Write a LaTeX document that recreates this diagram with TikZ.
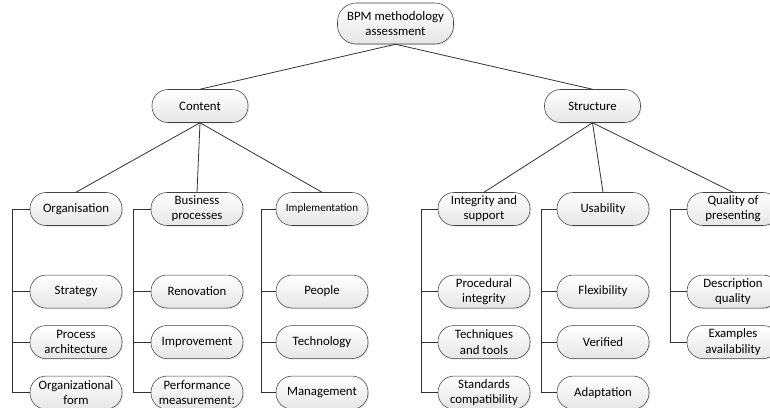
\documentclass[tikz,border=0pt]{standalone}
\usepackage{fontspec}
\setmainfont{Carlito}
\usepackage{tikz}
\usetikzlibrary{positioning, shadows}
\tikzset{
  box/.style     = {draw=black!75, rounded corners=12pt, align=center,
                    font=\fontsize{9.6}{11.3}\selectfont, inner sep=1pt,
                    minimum width=69pt, minimum height=24.75pt,
                    top color=white, bottom color=black!10,
                    drop shadow={opacity=0.2, shadow xshift=0.8pt, shadow yshift=-0.8pt}},
  hub/.style     = {box, minimum width=72pt},
  rootbox/.style = {box, minimum width=87pt, minimum height=30.75pt, rounded corners=14pt},
  small/.style   = {font=\fontsize{8.3}{10}\selectfont},
  ln/.style      = {draw=black!80, line width=0.6pt},
  br/.style      = {draw=black!80, line width=0.75pt},
}

\begin{document}
\begin{tikzpicture}[x=0.75pt, y=-0.75pt, node distance=12.75pt]
  \clip (0,0) rectangle (770,407);
  % top levels
  \node[rootbox] (bpm) at (395.5,23.5) {BPM methodology\\assessment};
  \node[hub] (content) at (200,106)   {Content};
  \node[hub] (struct)  at (592.5,106) {Structure};
  % criteria groups
  \node[box]        (org)   at (76,209)  {Organisation};
  \node[box]        (bus)   at (197,209) {Business\\processes};
  \node[box, small] (impl)  at (322,209) {Implementation};
  \node[box]        (integ) at (484,209) {Integrity and\\support};
  \node[box]        (usab)  at (603,209) {Usability};
  \node[box]        (qual)  at (733,209) {Quality of\\presenting};
  % content criteria
  \node[box, below=36.75pt of org] (strat)   {Strategy};
  \node[box, below=of strat]       (parch)   {Process\\architecture};
  \node[box, below=of parch]       (orgform) {Organizational\\form};
  \node[box, below=36.75pt of bus] (renov)   {Renovation};
  \node[box, below=of renov]       (improv)  {Improvement};
  \node[box, below=of improv]      (perf)    {Performance\\measurement:};
  \node[box, below=36.75pt of impl, font=\fontsize{9.6}{11.3}\selectfont] (people) {People};
  \node[box, below=of people]      (techn)   {Technology};
  \node[box, below=of techn]       (manag)   {Management};
  % structure criteria
  \node[box, below=36.75pt of integ] (proc)   {Procedural\\integrity};
  \node[box, below=of proc]          (tools)  {Techniques\\and tools};
  \node[box, below=of tools]         (stand)  {Standards\\compatibility};
  \node[box, below=36.75pt of usab]  (flex)   {Flexibility};
  \node[box, below=of flex]          (verif)  {Verified};
  \node[box, below=of verif]         (adapt)  {Adaptation};
  \node[box, below=36.75pt of qual]  (descr)  {Description\\quality};
  \node[box, below=of descr]         (examp)  {Examples\\availability};

  \draw[ln] (bpm.south) -- (content.north);
  \draw[ln] (bpm.south) -- (struct.north);
  \draw[ln] (content.south) -- (org.north);
  \draw[ln] (content.south) -- (bus.north);
  \draw[ln] (content.south) -- (impl.north);
  \draw[ln] (struct.south) -- (integ.north);
  \draw[ln] (struct.south) -- (usab.north);
  \draw[ln] (struct.south) -- (qual.north);

  \draw[br] (org.west) -- ++(-17,0) |- (strat.west);
  \draw[br] (org.west) -- ++(-17,0) |- (parch.west);
  \draw[br] (org.west) -- ++(-17,0) |- (orgform.west);
  \draw[br] (bus.west) -- ++(-17,0) |- (renov.west);
  \draw[br] (bus.west) -- ++(-17,0) |- (improv.west);
  \draw[br] (bus.west) -- ++(-17,0) |- (perf.west);
  \draw[br] (impl.west) -- ++(-14,0) |- (people.west);
  \draw[br] (impl.west) -- ++(-14,0) |- (techn.west);
  \draw[br] (impl.west) -- ++(-14,0) |- (manag.west);
  \draw[br] (integ.west) -- ++(-16,0) |- (proc.west);
  \draw[br] (integ.west) -- ++(-16,0) |- (tools.west);
  \draw[br] (integ.west) -- ++(-16,0) |- (stand.west);
  \draw[br] (usab.west) -- ++(-15,0) |- (flex.west);
  \draw[br] (usab.west) -- ++(-15,0) |- (verif.west);
  \draw[br] (usab.west) -- ++(-15,0) |- (adapt.west);
  \draw[br] (qual.west) -- ++(-16,0) |- (descr.west);
  \draw[br] (qual.west) -- ++(-16,0) |- (examp.west);
\end{tikzpicture}
\end{document}
